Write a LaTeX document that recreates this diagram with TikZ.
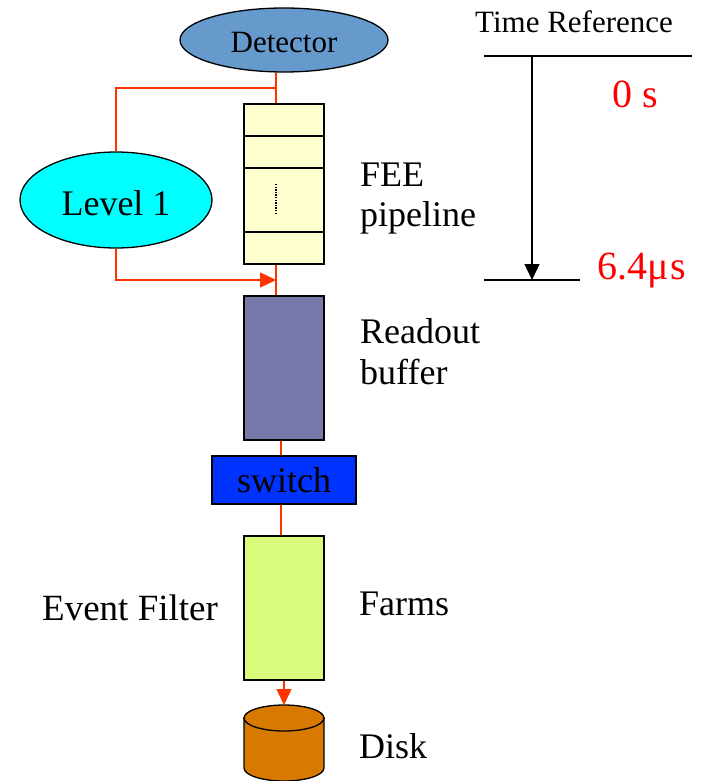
\documentclass[tikz,border=0pt]{standalone}
\usepackage{fontspec}
\setmainfont{Liberation Serif}
\usetikzlibrary{arrows.meta,shapes.geometric}
\definecolor{detc}{RGB}{102,153,204}
\definecolor{lvlc}{RGB}{0,255,255}
\definecolor{feec}{RGB}{255,255,208}
\definecolor{roc}{RGB}{119,121,170}
\definecolor{swc}{RGB}{0,51,255}
\definecolor{farmc}{RGB}{217,250,122}
\definecolor{diskc}{RGB}{217,122,0}
\definecolor{redc}{RGB}{255,51,0}
\begin{document}
\begin{tikzpicture}[x=1pt,y=-1pt,
  ell/.style={ellipse, draw=black, line width=1.3pt, inner sep=0pt},
  box/.style={rectangle, draw=black, line width=1.3pt, inner sep=0pt},
  redl/.style={draw=redc, line width=1.4pt},
  redarrow/.style={redl, -{Triangle[length=16pt,width=15pt]}},
  blkarrow/.style={draw=black, line width=1.3pt, -{Triangle[length=16pt,width=15pt]}},
  lbl/.style={anchor=base west, inner sep=0pt, font=\fontsize{36}{42}\selectfont},
  redlbl/.style={anchor=base west, inner sep=0pt, text=red, font=\fontsize{40}{46}\selectfont}
]
\useasboundingbox (0,0) rectangle (702,781);

% nodes
\node[ell, fill=detc, minimum width=208pt, minimum height=64pt, font=\fontsize{31}{36}\selectfont, text height=26pt, text depth=0pt] (det) at (284,40) {Detector};
\node[ell, fill=lvlc, minimum width=192pt, minimum height=96pt, font=\fontsize{36}{42}\selectfont, text height=30pt, text depth=0pt] (l1) at (116,200) {Level 1};
\node[box, fill=feec, minimum width=80pt, minimum height=160pt] (fee) at (284,184) {};
\draw[line width=1.3pt] (244,136) -- (324,136);
\draw[line width=1.3pt] (244,168) -- (324,168);
\draw[line width=1.3pt] (244,232) -- (324,232);
\draw[line width=1.3pt, dash pattern=on 1.3pt off 1.3pt] (276,184) -- (276,213);
\node[box, fill=roc, minimum width=80pt, minimum height=144pt] (ro) at (284,368) {};
\node[box, fill=swc, minimum width=144pt, minimum height=48pt, font=\fontsize{36}{42}\selectfont] (sw) at (284,480) {switch};
\node[box, fill=farmc, minimum width=80pt, minimum height=144pt] (farms) at (284,608) {};

% disk
\coordinate (disktop) at (284,705);
\filldraw[fill=diskc, draw=black, line width=1.3pt] (244,718) -- (244,768) arc[start angle=180, end angle=0, x radius=40, y radius=13] -- (324,718) -- cycle;
\filldraw[fill=diskc, draw=black, line width=1.3pt] (284,718) ellipse[x radius=40, y radius=13];

% labels
\node[lbl] (feelbl) at (360,186) {FEE};
\node[lbl] (pipelbl) at (360,226) {pipeline};
\node[lbl] (rolbl) at (360,343) {Readout};
\node[lbl] (buflbl) at (360,384) {buffer};
\node[lbl] (farmlbl) at (359,615) {Farms};
\node[lbl] (disklbl) at (359,758) {Disk};
\node[lbl, font=\fontsize{37}{42}\selectfont] (eflbl) at (42,620) {Event Filter};
\node[anchor=base west, inner sep=0pt, font=\fontsize{31}{36}\selectfont] (trlbl) at (475,33) {Time Reference};
\node[redlbl] (zero) at (612,107) {0 s};
\node[redlbl] (six) at (597,279) {6.4μ\kern2pt s};

% red connectors
\coordinate (tap) at (276,88);
\coordinate (l1in) at (276,280);
\coordinate (mid) at (281,0);
\draw[redl] (det.south -| tap) -- (fee.north -| tap);
\draw[redl] (tap) -| (l1.north);
\draw[redarrow] (l1.south) |- (l1in);
\draw[redl] (fee.south -| tap) -- (ro.north -| tap);
\draw[redl] (ro.south -| mid) -- (sw.north -| mid);
\draw[redl] (sw.south -| mid) -- (farms.north -| mid);
\draw[redarrow] (farms.south) -- (disktop);

% time reference
\coordinate (t0a) at (484,56);
\coordinate (t0b) at (692,56);
\coordinate (t1a) at (484,280);
\coordinate (t1b) at (580,280);
\draw[line width=1.3pt] (t0a) -- (t0b);
\draw[line width=1.3pt] (t1a) -- (t1b);
\draw[blkarrow] (t0a -| 532,0) -- (t1a -| 532,0);
\end{tikzpicture}
\end{document}
